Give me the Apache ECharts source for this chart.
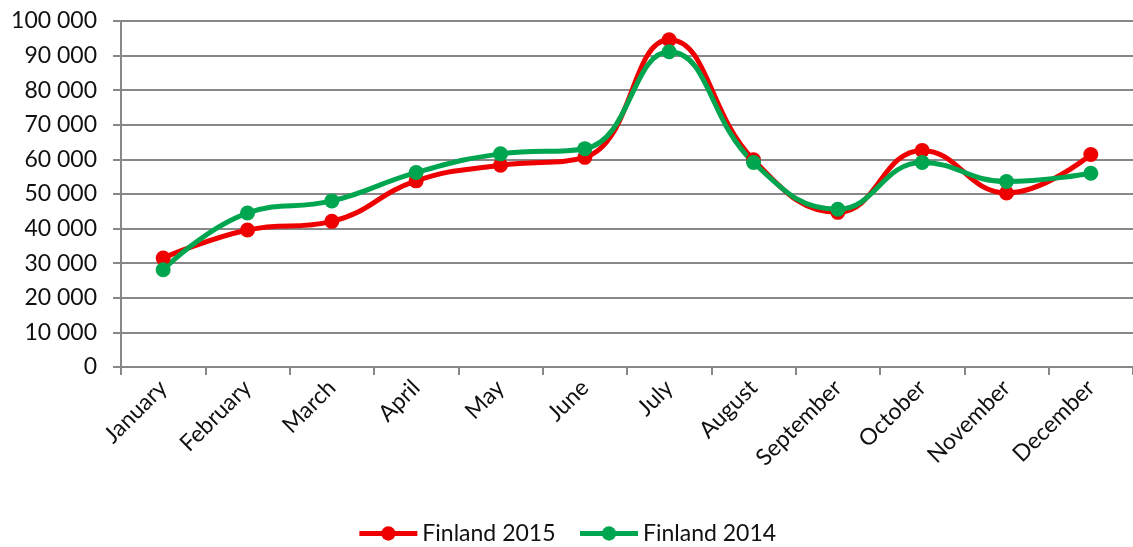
<!DOCTYPE html>
<html>
<head>
<meta charset="utf-8">
<style>
  html, body { margin: 0; padding: 0; background: #fff; }
  #chart { width: 1133px; height: 547px; }
</style>
<script src="https://cdn.jsdelivr.net/npm/echarts@6/dist/echarts.min.js"></script>
</head>
<body>
<div id="chart"></div>
<script>
// month names on the category axis
const months = ['January', 'February', 'March', 'April', 'May', 'June',
  'July', 'August', 'September', 'October', 'November', 'December'];

// values
const finland2015 = [31500, 39600, 42100, 53800, 58300, 60600, 94600, 59900, 44700, 62600, 50300, 61400];
const finland2014 = [28100, 44500, 48000, 56200, 61600, 63100, 91100, 59100, 45600, 59100, 53600, 56000];

const yTicks = [0, 10000, 20000, 30000, 40000, 50000, 60000, 70000, 80000, 90000, 100000];

let fmt = function (v) {
  return String(v).replace(/\B(?=(\d{3})+(?!\d))/g, ' ');
};

let myChart = echarts.init(document.getElementById('chart'));
let font = 'Lato, Open Sans, sans-serif';

let option = {
  animation: false,
  textStyle: { fontFamily: font },
  legend: {
    bottom: -3,
    left: 'center',
    itemWidth: 58,
    itemHeight: 18,
    itemGap: 22,
    lineStyle: { width: 5 },
    textStyle: { fontSize: 23, color: '#111', fontFamily: font },
    data: ['Finland 2015', 'Finland 2014']
  },
  grid: { left: 121, right: -2, top: 21, bottom: 180 },
  xAxis: {
    type: 'category',
    data: months,
    boundaryGap: true,
    axisLine: { lineStyle: { color: '#888', width: 2 } },
    axisTick: { show: true, length: 8, lineStyle: { color: '#888', width: 2 } },
    axisLabel: { rotate: 45, fontSize: 23, color: '#111', margin: 17, fontFamily: font, interval: 0 }
  },
  yAxis: {
    type: 'value',
    min: yTicks[0],
    max: yTicks[yTicks.length - 1],
    interval: 10000,
    axisLine: { show: true, lineStyle: { color: '#888', width: 2 } },
    axisTick: { show: true, length: 8, lineStyle: { color: '#888', width: 2 } },
    splitLine: { lineStyle: { color: '#888', width: 2 } },
    axisLabel: { fontSize: 23, color: '#111', margin: 24, fontFamily: font, formatter: fmt }
  },
  series: [
    {
      name: 'Finland 2015',
      type: 'line',
      data: finland2015,
      smooth: 0.45,
      symbol: 'circle',
      symbolSize: 15,
      color: '#ee0000',
      lineStyle: { width: 5, color: '#ee0000' },
      itemStyle: { color: '#ee0000' }
    },
    {
      name: 'Finland 2014',
      type: 'line',
      data: finland2014,
      smooth: 0.45,
      symbol: 'circle',
      symbolSize: 15,
      color: '#00a550',
      lineStyle: { width: 5, color: '#00a550' },
      itemStyle: { color: '#00a550' }
    }
  ]
};
myChart.setOption(option);
</script>
</body>
</html>
